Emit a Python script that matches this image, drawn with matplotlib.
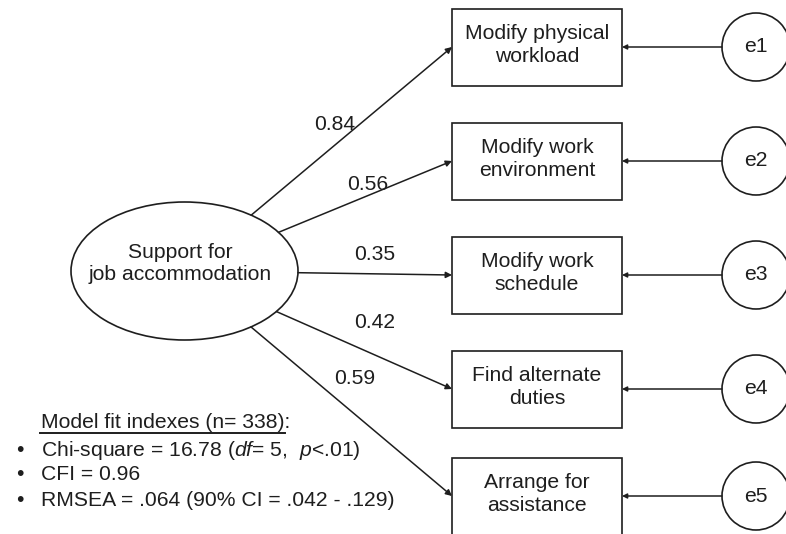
import numpy as np
import matplotlib
matplotlib.use('Agg')
import matplotlib.pyplot as plt
from matplotlib.patches import Ellipse, Rectangle, Circle

plt.rcParams['font.family'] = ['Liberation Sans', 'DejaVu Sans']
plt.rcParams['mathtext.fontset'] = 'custom'
plt.rcParams['mathtext.rm'] = 'Liberation Sans'
plt.rcParams['mathtext.it'] = 'Liberation Sans:italic'

# model data
latent = 'Support for\njob accommodation'
indicators = ['Modify physical\nworkload', 'Modify work\nenvironment', 'Modify work\nschedule',
              'Find alternate\nduties', 'Arrange for\nassistance']
loadings = [0.84, 0.56, 0.35, 0.42, 0.59]
errors = ['e1', 'e2', 'e3', 'e4', 'e5']
fit_title = 'Model fit indexes (n= 338):'
fit_lines = ['Chi-square = 16.78 ($\\mathit{df}$= 5,  $\\mathit{p}$<.01)',
             'CFI = 0.96',
             'RMSEA = .064 (90% CI = .042 - .129)']

fig = plt.figure(figsize=(7.86, 5.34), dpi=100)
ax = fig.add_axes([0, 0, 1, 1])
ax.set_xlim(0, 786)
ax.set_ylim(534, 0)
ax.axis('off')

fs = 15.2
ink = '#1e1e1e'

# latent ellipse
ecx, ecy, ew, eh = 184.5, 271, 227, 138
ax.add_patch(Ellipse((ecx, ecy), ew, eh, fill=False, lw=1.2, ec=ink))
ax.text(180, 263, latent, ha='center', va='center', fontsize=fs, color=ink, linespacing=1.2)

box_x, box_w, box_h = 452, 170, 77
box_cy = [47, 161, 275, 389, 496]
circ_x, circ_r = 756, 34
lab_xy = [(335, 125), (368, 184), (375, 255), (375, 322), (355, 378)]

for i, (name, load, err) in enumerate(zip(indicators, loadings, errors)):
    cy = box_cy[i]
    ax.add_patch(Rectangle((box_x, cy - box_h / 2), box_w, box_h, fill=False, lw=1.2, ec=ink))
    ax.text(box_x + box_w / 2, cy - 2, name, ha='center', va='center', fontsize=fs,
            color=ink, linespacing=1.25)
    # start of path on ellipse boundary
    dx, dy = box_x - ecx, cy - ecy
    t = 1 / np.sqrt((dx / (ew / 2)) ** 2 + (dy / (eh / 2)) ** 2)
    sx, sy = ecx + dx * t, ecy + dy * t
    ax.annotate('', xy=(box_x, cy), xytext=(sx, sy),
                arrowprops=dict(arrowstyle='-|>', mutation_scale=9, lw=1.1, color=ink,
                                shrinkA=0, shrinkB=0))
    ax.text(lab_xy[i][0], lab_xy[i][1], f'{load:.2f}', ha='center', va='center',
            fontsize=fs, color=ink)
    # error term
    ax.add_patch(Circle((circ_x, cy), circ_r, fill=False, lw=1.2, ec=ink))
    ax.text(circ_x, cy, err, ha='center', va='center', fontsize=fs, color=ink)
    ax.annotate('', xy=(box_x + box_w, cy), xytext=(circ_x - circ_r, cy),
                arrowprops=dict(arrowstyle='-|>', mutation_scale=7, lw=1.1, color=ink,
                                shrinkA=0, shrinkB=0))

# fit indexes
ax.text(41, 423, fit_title, ha='left', va='center', fontsize=fs, color=ink)
ax.plot([40, 285], [433, 433], color=ink, lw=1.4)
for j, line in enumerate(fit_lines):
    y = 450 + j * 25
    ax.text(20, y, '\u2022', ha='center', va='center', fontsize=fs, color=ink)
    ax.text(41, y, line, ha='left', va='center', fontsize=fs, color=ink)

fig.savefig('out.png', dpi=100)
